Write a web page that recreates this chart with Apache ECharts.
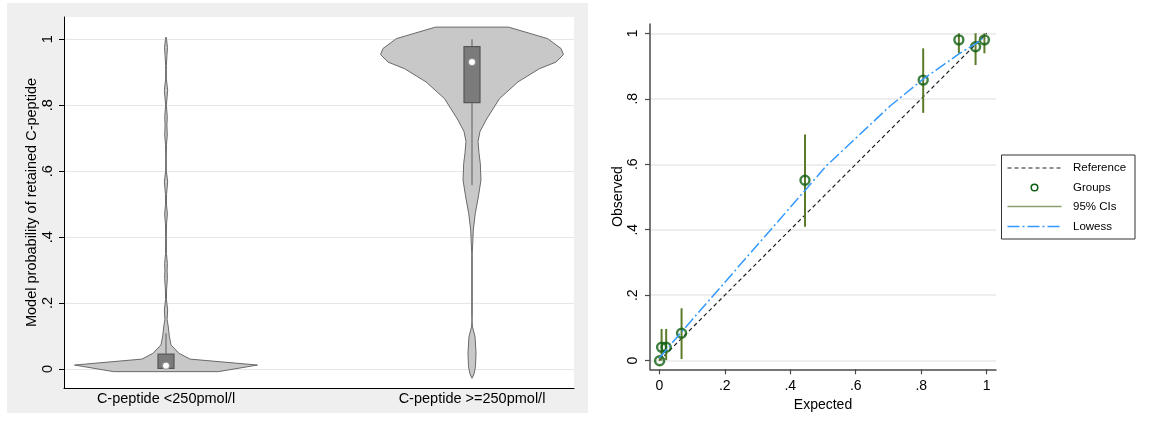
<!DOCTYPE html>
<html><head><meta charset="utf-8">
<script src="https://cdn.jsdelivr.net/npm/echarts@6/dist/echarts.min.js"></script>
<style>html,body{margin:0;padding:0;background:#fff}#c{width:1154px;height:423px}</style>
</head><body><div id="c"></div>
<script>
// ---------- Left panel: violin plots ----------
const groupNames = ['C-peptide <250pmol/l', 'C-peptide >=250pmol/l'];
// density profile (probability value, relative density; max = 1)
const g1Prob = [-0.008, 0.012, 0.030, 0.0475, 0.073, 0.10, 0.13, 0.15, 0.179, 0.21, 0.24, 0.275, 0.30, 0.32, 0.35, 0.40, 0.44, 0.47, 0.50, 0.53, 0.568, 0.60, 0.64, 0.68, 0.71, 0.74, 0.765, 0.80, 0.845, 0.88, 0.92, 0.95, 0.975, 1.0, 1.007];
const g1Dens = [0.571, 1.0, 0.264, 0.143, 0.055, 0.036, 0.024, 0.012, 0.018, 0.005, 0.006, 0.015, 0.012, 0.015, 0.005, 0.004, 0.006, 0.015, 0.005, 0.006, 0.018, 0.004, 0.003, 0.005, 0.014, 0.010, 0.014, 0.004, 0.018, 0.004, 0.004, 0.010, 0.016, 0.006, 0.0];
const g2Prob = [-0.028, -0.015, 0.007, 0.048, 0.098, 0.128, 0.148, 0.17, 0.35, 0.421, 0.472, 0.522, 0.573, 0.623, 0.654, 0.69, 0.72, 0.755, 0.82, 0.871, 0.911, 0.931, 0.954, 0.972, 1.002, 1.037];
const g2Dens = [0.0, 0.022, 0.038, 0.044, 0.033, 0.005, 0.0, 0.003, 0.003, 0.014, 0.036, 0.069, 0.098, 0.091, 0.077, 0.066, 0.087, 0.153, 0.30, 0.503, 0.738, 0.918, 1.0, 0.973, 0.828, 0.399];
const boxQ1 = [0.002, 0.808];
const boxQ3 = [0.045, 0.978];
const boxMedian = [0.010, 0.931];
const whiskerLow = [0.0, 0.558];
const whiskerHigh = [0.108, 1.0];
const probTicks = [0, 0.2, 0.4, 0.6, 0.8, 1];
const probTickLabels = ['0', '.2', '.4', '.6', '.8', '1'];

// ---------- Right panel: calibration plot ----------
const expected = [0.001, 0.007, 0.021, 0.068, 0.445, 0.806, 0.915, 0.966, 0.993];
const observed = [0.0, 0.041, 0.041, 0.084, 0.551, 0.857, 0.980, 0.959, 0.980];
const ciLow = [0.0, 0.0, 0.002, 0.005, 0.409, 0.757, 0.939, 0.903, 0.939];
const ciHigh = [0.012, 0.097, 0.097, 0.160, 0.691, 0.954, 1.0, 1.0, 1.0];
const lowessX = [0.0, 0.068, 0.445, 0.51, 0.705, 0.806, 0.915, 0.966, 0.995];
const lowessY = [0.008, 0.088, 0.52, 0.595, 0.778, 0.86, 0.937, 0.968, 0.99];
const refX = [0, 1];
const refY = [0, 1];
const calTicks = [0, 0.2, 0.4, 0.6, 0.8, 1];
const calTickLabels = ['0', '.2', '.4', '.6', '.8', '1'];
const legendLabels = ['Reference', 'Groups', '95% CIs', 'Lowess'];

// ---------- build ----------
const FONT = '"Liberation Sans", Arial, sans-serif';
const violinProb = [g1Prob, g2Prob];
const violinDens = [g1Dens, g2Dens];
const VIOLIN_HALF = 91.5;
const BOX_HALF = 8;
function fmtTick(labels, ticks) {
  return function (v) {
    for (let i = 0; i < ticks.length; i++) if (Math.abs(ticks[i] - v) < 1e-6) return labels[i];
    return '';
  };
}

function violinRender(params, api) {
  const gi = params.dataIndex;
  const probs = violinProb[gi], dens = violinDens[gi];
  const cx = api.coord([gi + 1, 0])[0];
  const right = [], left = [];
  for (let i = 0; i < probs.length; i++) {
    const y = api.coord([gi + 1, probs[i]])[1];
    const w = dens[i] * VIOLIN_HALF;
    right.push([cx + w, y]);
    left.push([cx - w, y]);
  }
  const pts = right.concat(left.reverse());
  return { type: 'polygon', shape: { points: pts }, style: { fill: '#c8c8c8', stroke: '#6a6a6a', lineWidth: 1 } };
}
function boxRender(params, api) {
  const gi = params.dataIndex;
  const cx = api.coord([gi + 1, 0])[0];
  const yLo = api.coord([gi + 1, whiskerLow[gi]])[1];
  const yHi = api.coord([gi + 1, whiskerHigh[gi]])[1];
  const yQ1 = api.coord([gi + 1, boxQ1[gi]])[1];
  const yQ3 = api.coord([gi + 1, boxQ3[gi]])[1];
  const yMed = api.coord([gi + 1, boxMedian[gi]])[1];
  return {
    type: 'group',
    children: [
      { type: 'line', shape: { x1: cx, y1: yLo, x2: cx, y2: yHi }, style: { stroke: '#5c5c5c', lineWidth: 1 } },
      { type: 'rect', shape: { x: cx - BOX_HALF, y: yQ3, width: 2 * BOX_HALF, height: yQ1 - yQ3 }, style: { fill: '#7b7b7b', stroke: '#575757', lineWidth: 1.2 } },
      { type: 'circle', shape: { cx: cx, cy: yMed, r: 3.6 }, style: { fill: '#ffffff', stroke: '#8a8a8a', lineWidth: 1 } }
    ]
  };
}
function ciRender(params, api) {
  const p1 = api.coord([api.value(0), api.value(1)]);
  const p2 = api.coord([api.value(0), api.value(2)]);
  return { type: 'line', shape: { x1: p1[0], y1: p1[1], x2: p2[0], y2: p2[1] }, style: { stroke: '#5b7a2a', lineWidth: 2 } };
}

const violinData = groupNames.map((n, i) => [i + 1, 0]);
const ciData = expected.map((x, i) => [x, ciLow[i], ciHigh[i]]);
const groupData = expected.map((x, i) => [x, observed[i]]);
const lowessData = lowessX.map((x, i) => [x, lowessY[i]]);
const refData = refX.map((x, i) => [x, refY[i]]);

const txt = { color: '#000', fontFamily: FONT };
const LG = { x: 1001.5, y: 155, w: 133.5, h: 84 };
const legendRows = [168, 187.5, 206.5, 226.5];
const option = {
  animation: false,
  textStyle: { fontFamily: FONT },
  grid: [
    { left: 64, top: 17, width: 510, height: 371, show: true, backgroundColor: '#ffffff', borderWidth: 0 },
    { left: 650, top: 24, width: 346, height: 345.3, show: false }
  ],
  xAxis: [
    {
      type: 'value', gridIndex: 0, min: 2 / 3, max: 7 / 3,
      axisLine: { show: true, onZero: false, lineStyle: { color: '#000', width: 1 } },
      axisTick: { show: false }, splitLine: { show: false },
      axisLabel: { customValues: [1, 2], formatter: v => groupNames[Math.round(v) - 1], margin: 3, fontSize: 14.5, ...txt }
    },
    {
      type: 'value', gridIndex: 1, min: -0.0284, max: 1.0284,
      axisLine: { show: true, onZero: false, lineStyle: { color: '#4a4a4a', width: 1.5 } },
      axisTick: { show: true, customValues: calTicks, length: 5, lineStyle: { color: '#4a4a4a', width: 1.2 } },
      splitLine: { show: false },
      axisLabel: { customValues: calTicks, formatter: fmtTick(calTickLabels, calTicks), margin: 10, fontSize: 14, ...txt },
      name: 'Expected', nameLocation: 'middle', nameGap: 23, nameTextStyle: { fontSize: 14, ...txt }
    }
  ],
  yAxis: [
    {
      type: 'value', gridIndex: 0, min: -0.0576, max: 1.0677,
      axisLine: { show: true, onZero: false, lineStyle: { color: '#000', width: 1 } },
      axisTick: { show: true, customValues: probTicks, length: 5, lineStyle: { color: '#000' } },
      splitLine: { show: true, lineStyle: { color: '#e6e6e6', width: 1 } },
      axisLabel: { customValues: probTicks, rotate: 90, formatter: fmtTick(probTickLabels, probTicks), margin: 9, fontSize: 14.5, ...txt },
      name: 'Model probability of retained C-peptide', nameLocation: 'middle', nameGap: 21, nameTextStyle: { fontSize: 14.5, ...txt }
    },
    {
      type: 'value', gridIndex: 1, min: -0.0263, max: 1.0284,
      axisLine: { show: true, onZero: false, lineStyle: { color: '#4a4a4a', width: 1.5 } },
      axisTick: { show: true, customValues: calTicks, length: 5, lineStyle: { color: '#4a4a4a', width: 1.2 } },
      splitLine: { show: true, lineStyle: { color: '#e8e8e8', width: 1.5 } },
      axisLabel: { customValues: calTicks, rotate: 90, formatter: fmtTick(calTickLabels, calTicks), margin: 9.5, fontSize: 14, ...txt },
      name: 'Observed', nameLocation: 'middle', nameGap: 24, nameTextStyle: { fontSize: 14, ...txt }
    }
  ],
  series: [
    { type: 'custom', name: 'violin', xAxisIndex: 0, yAxisIndex: 0, data: violinData, renderItem: violinRender, silent: true },
    { type: 'custom', name: 'box', xAxisIndex: 0, yAxisIndex: 0, data: violinData, renderItem: boxRender, silent: true, z: 3 },
    { type: 'line', name: legendLabels[0], xAxisIndex: 1, yAxisIndex: 1, data: refData, symbol: 'none', lineStyle: { color: '#222', width: 1.2, type: [4, 3] }, z: 2 },
    { type: 'custom', name: legendLabels[2], xAxisIndex: 1, yAxisIndex: 1, data: ciData, renderItem: ciRender, z: 3 },
    { type: 'scatter', name: legendLabels[1], xAxisIndex: 1, yAxisIndex: 1, data: groupData, symbol: 'circle', symbolSize: 9, itemStyle: { color: 'rgba(0,0,0,0)', borderColor: '#0f5f12', borderWidth: 2.4 }, z: 4 },
    { type: 'line', name: legendLabels[3], xAxisIndex: 1, yAxisIndex: 1, data: lowessData, symbol: 'none', lineStyle: { color: '#3399ff', width: 1.5, type: [12, 3, 2, 3] }, z: 5 }
  ],
  graphic: [
    { type: 'rect', z: -100, shape: { x: 7, y: 3, width: 581, height: 410 }, style: { fill: '#efefef' } },
    { type: 'rect', shape: { x: LG.x, y: LG.y, width: LG.w, height: LG.h }, style: { fill: '#fff', stroke: '#333', lineWidth: 1 } },
    { type: 'line', shape: { x1: 1007.5, y1: legendRows[0], x2: 1061.5, y2: legendRows[0] }, style: { stroke: '#222', lineWidth: 1.2, lineDash: [4, 3] } },
    { type: 'circle', shape: { cx: 1034.5, cy: legendRows[1], r: 3.3 }, style: { fill: 'none', stroke: '#0f5f12', lineWidth: 1.5 } },
    { type: 'line', shape: { x1: 1007.5, y1: legendRows[2], x2: 1061.5, y2: legendRows[2] }, style: { stroke: '#8a9e6a', lineWidth: 1.5 } },
    { type: 'line', shape: { x1: 1007.5, y1: legendRows[3], x2: 1061.5, y2: legendRows[3] }, style: { stroke: '#3399ff', lineWidth: 1.5, lineDash: [12, 3, 2, 3] } },
    ...legendLabels.map((t, i) => ({ type: 'text', x: 1073, y: legendRows[i], style: { text: t, fill: '#000', font: '11.5px ' + FONT, textVerticalAlign: 'middle' } }))
  ]
};
const chart = echarts.init(document.getElementById('c'), null, { renderer: 'canvas' });
chart.setOption(option);
</script></body></html>
